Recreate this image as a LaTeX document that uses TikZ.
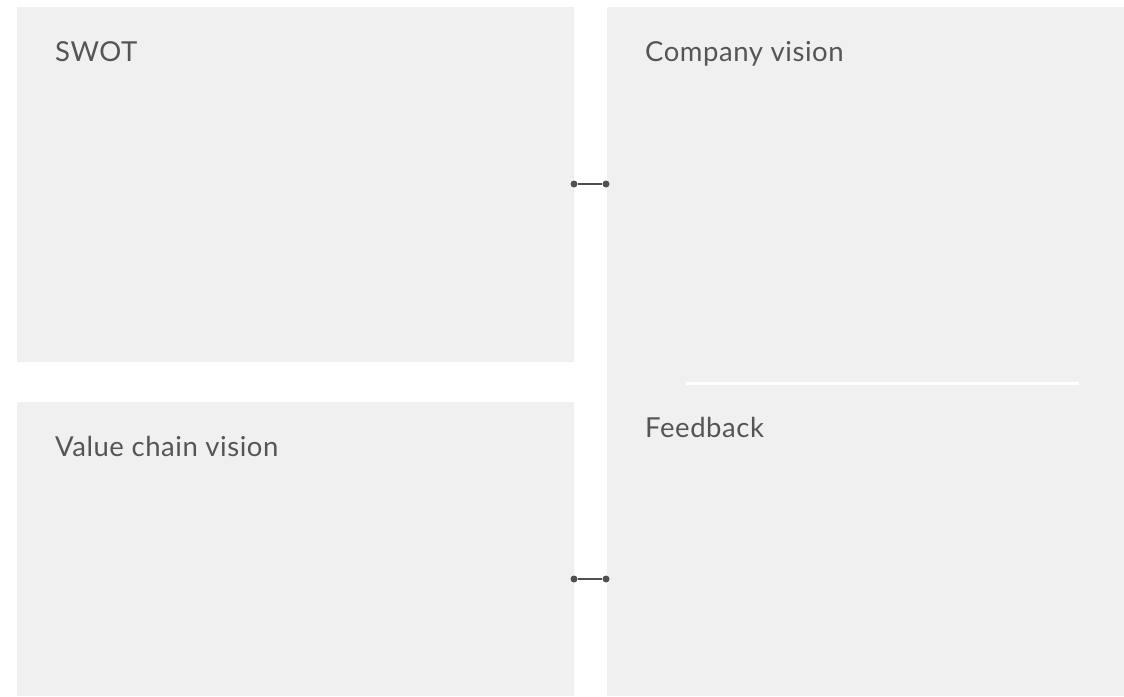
\documentclass[tikz,border=0pt]{standalone}
\usepackage{fontspec}
\setmainfont{Lato}[LetterSpace=2]
\definecolor{panel}{HTML}{F0F0F0}
\definecolor{ink}{HTML}{555555}
\definecolor{dotc}{HTML}{505050}
\begin{document}
\begin{tikzpicture}[x=1pt,y=-1pt,
  panelbox/.style={fill=panel,draw=none},
  lbl/.style={anchor=base west,inner sep=0pt,text=ink,font=\fontsize{27.5}{32}\selectfont},
  dotn/.style={circle,fill=dotc,inner sep=0pt,minimum size=7pt},
  link/.style={draw=dotc,line width=2pt}]
\useasboundingbox[fill=white] (0,0) rectangle (1124,696);
\fill[panelbox] (17,7) rectangle (574,362);
\fill[panelbox] (17,402) rectangle (574,696);
\fill[panelbox] (607,7) rectangle (1124,696);
\fill[white] (686,381.5) rectangle (1079,385);
\node[lbl] (swot) at (55,61) {SWOT};
\node[lbl] (vision) at (645,61) {Company vision};
\node[lbl] (vcv) at (55,456) {Value chain vision};
\node[lbl] (fb) at (645,437) {Feedback};
\node[dotn] (a1) at (574,184) {};
\node[dotn] (b1) at (606,184) {};
\node[dotn] (a2) at (574,579) {};
\node[dotn] (b2) at (606,579) {};
\draw[link] (a1) -- (b1);
\draw[link] (a2) -- (b2);
\end{tikzpicture}
\end{document}
